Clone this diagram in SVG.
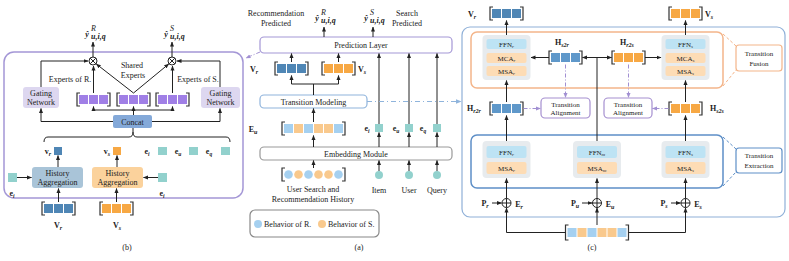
<svg xmlns="http://www.w3.org/2000/svg" width="789" height="261" viewBox="0 0 789 261">
<defs>
<style>
.t{font-family:"Liberation Serif",serif;font-size:8px;fill:#222;text-anchor:middle}
.st{text-anchor:start}
.s{font-size:7px}
.m{font-weight:bold}
.i{font-style:italic}
.ln{stroke:#222;stroke-width:1;fill:none}
.ar{marker-end:url(#a)}
.br{stroke:#333;stroke-width:1.2;fill:none}
.dp{stroke:#a18fd2;stroke-width:1;fill:none;stroke-dasharray:4,2,1,2;marker-end:url(#ap)}
.dbl{stroke:#8fb4dc;stroke-width:1.2;fill:none;stroke-dasharray:5,3,1,3;marker-end:url(#ab)}
.db{fill:#4f86b5}
.hb{fill:#5f98ca}
.or{fill:#f7a844}
.lb{fill:#a5d0f0}
.lo{fill:#f9c98d}
.pu{fill:#a07fe6}
.tl{fill:#92d1cd}
.blk{fill:#e7ebee}
.ffn{fill:#bde3f4}
.msa{fill:#fddcb5}
</style>
<marker id="a" markerUnits="userSpaceOnUse" markerWidth="5" markerHeight="5" viewBox="0 0 10 10" refX="9" refY="5" orient="auto"><path d="M0,1 L10,5 L0,9 z" fill="#222"/></marker>
<marker id="ap" markerUnits="userSpaceOnUse" markerWidth="5" markerHeight="5" viewBox="0 0 10 10" refX="9" refY="5" orient="auto"><path d="M0,1 L10,5 L0,9 z" fill="#a18fd2"/></marker>
<marker id="ab" markerUnits="userSpaceOnUse" markerWidth="6" markerHeight="6" viewBox="0 0 10 10" refX="9" refY="5" orient="auto"><path d="M0,1 L10,5 L0,9 z" fill="#8fb4dc"/></marker>
</defs>
<rect width="789" height="261" fill="#fff"/>

<!-- ================= Panel (b) ================= -->
<g id="panel-b">
<rect x="4" y="52" width="239" height="146" rx="10" fill="none" stroke="#a497d6" stroke-width="1.5"/>
</g>
<g id="b-yR">
<text class="t m i" x="87" y="37" font-size="10">ŷ</text>
<text class="t i st" x="91" y="31" font-size="6">R</text>
<text class="t m i st" x="91" y="39" font-size="5.5">u,i,q</text>
</g>
<g id="b-yS">
<text class="t m i" x="166" y="37" font-size="10">ŷ</text>
<text class="t i st" x="170" y="31" font-size="6">S</text>
<text class="t m i st" x="170" y="39" font-size="5.5">u,i,q</text>
</g>
<g id="b-otimesR"><circle cx="93" cy="61" r="4" fill="#fff" stroke="#222"/><path class="ln" d="M90.2,58.2L95.8,63.8M95.8,58.2L90.2,63.8"/></g>
<g id="b-otimesS"><circle cx="172" cy="61" r="4" fill="#fff" stroke="#222"/><path class="ln" d="M169.2,58.2L174.8,63.8M174.8,58.2L169.2,63.8"/></g>
<g id="b-gateL"><rect x="23" y="87" width="36" height="21" rx="3" fill="#ddd7f0"/><text class="t" x="41" y="96">Gating</text><text class="t" x="41" y="105">Network</text></g>
<g id="b-gateR"><rect x="201" y="87" width="39" height="21" rx="3" fill="#ddd7f0"/><text class="t" x="220.5" y="96">Gating</text><text class="t" x="220.5" y="105">Network</text></g>
<g id="b-expR">
<path class="br" d="M80,93H77V106H80M107,93H110V106H107"/>
<rect class="pu" x="79" y="95" width="9" height="9"/><rect class="pu" x="89" y="95" width="9" height="9"/><rect class="pu" x="99" y="95" width="9" height="9"/>
<text class="t" x="70" y="82">Experts of R.</text>
</g>
<g id="b-expShared">
<path class="br" d="M120,93H117V106H120M147,93H150V106H147"/>
<rect class="pu" x="119" y="95" width="9" height="9"/><rect class="pu" x="129" y="95" width="9" height="9"/><rect class="pu" x="139" y="95" width="9" height="9"/>
<text class="t" x="132" y="68">Shared</text><text class="t" x="133" y="78">Experts</text>
</g>
<g id="b-expS">
<path class="br" d="M159,93H156V106H159M186,93H189V106H186"/>
<rect class="pu" x="158" y="95" width="9" height="9"/><rect class="pu" x="168" y="95" width="9" height="9"/><rect class="pu" x="178" y="95" width="9" height="9"/>
<text class="t" x="198" y="82">Experts of S.</text>
</g>
<g id="b-concat"><rect x="113" y="115" width="39" height="13" rx="2" fill="#84a9d9"/><text class="t" x="132.5" y="124.5">Concat</text></g>
<g id="b-vr"><text class="t m" x="48" y="154">v<tspan class="i" font-size="6" dy="1.5">r</tspan></text><rect class="db" x="54" y="147" width="8" height="8"/></g>
<g id="b-vs"><text class="t m" x="107" y="154">v<tspan class="i" font-size="6" dy="1.5">s</tspan></text><rect class="or" x="113" y="147" width="8" height="8"/></g>
<g id="b-eitop"><text class="t m" x="147" y="154">e<tspan class="i" font-size="5.5" dy="1.5">i</tspan></text><rect class="tl" x="158" y="147" width="9" height="8"/></g>
<g id="b-eu"><text class="t m" x="178" y="154">e<tspan class="i" font-size="5.5" dy="1.5">u</tspan></text><rect class="tl" x="189" y="147" width="9" height="8"/></g>
<g id="b-eq"><text class="t m" x="209" y="154">e<tspan class="i" font-size="5.5" dy="1.5">q</tspan></text><rect class="tl" x="221" y="147" width="9" height="8"/></g>
<g id="b-haR"><rect x="32" y="167" width="51" height="21" rx="3" fill="#a9c4d8"/><text class="t" x="57.5" y="176">History</text><text class="t" x="57.5" y="185">Aggregation</text></g>
<g id="b-haS"><rect x="92" y="167" width="51" height="21" rx="3" fill="#fbd29c"/><text class="t" x="117.5" y="176">History</text><text class="t" x="117.5" y="185">Aggregation</text></g>
<g id="b-eiL"><rect class="tl" x="8" y="173" width="9" height="9"/><text class="t m" x="12" y="196">e<tspan class="i" font-size="5.5" dy="1.5">i</tspan></text></g>
<g id="b-eiR"><rect class="tl" x="158" y="173" width="9" height="9"/><text class="t m" x="162" y="196">e<tspan class="i" font-size="5.5" dy="1.5">i</tspan></text></g>
<g id="b-Vr">
<path class="br" d="M45,202H42V215H45M72,202H75V215H72"/>
<rect class="db" x="44" y="204" width="9" height="9"/><rect class="db" x="54" y="204" width="9" height="9"/><rect class="db" x="64" y="204" width="9" height="9"/>
<text class="t m" x="58" y="228" font-size="9">V<tspan class="i" font-size="6" dy="1.5">r</tspan></text>
</g>
<g id="b-Vs">
<path class="br" d="M103,202H100V215H103M130,202H133V215H130"/>
<rect class="or" x="102" y="204" width="9" height="9"/><rect class="or" x="112" y="204" width="9" height="9"/><rect class="or" x="122" y="204" width="9" height="9"/>
<text class="t m" x="117" y="228" font-size="9">V<tspan class="i" font-size="6" dy="1.5">s</tspan></text>
</g>
<text class="t" x="127" y="250" font-size="9">(b)</text>

<!-- ================= Panel (a) ================= -->
<g id="a-recpred"><text class="t" x="276" y="16">Recommendation</text><text class="t" x="276" y="26">Predicted</text></g>
<g id="a-yR">
<text class="t m i" x="317" y="21" font-size="10">ŷ</text>
<text class="t i st" x="321" y="15" font-size="6">R</text>
<text class="t m i st" x="321" y="23" font-size="5.5">u,i,q</text>
</g>
<g id="a-yS">
<text class="t m i" x="366" y="21" font-size="10">ŷ</text>
<text class="t i st" x="370" y="15" font-size="6">S</text>
<text class="t m i st" x="370" y="23" font-size="5.5">u,i,q</text>
</g>
<g id="a-searchpred"><text class="t" x="407" y="16">Search</text><text class="t" x="407" y="26">Predicted</text></g>
<g id="a-pred"><rect x="260" y="37" width="192" height="16" rx="4" fill="#fff" stroke="#a497d6" stroke-width="1.2"/><text class="t" x="361" y="48">Prediction Layer</text></g>
<g id="a-Vr">
<text class="t m" x="254" y="72" font-size="9">V<tspan class="i" font-size="6" dy="1.5">r</tspan></text>
<path class="br" d="M278,62H275V75H278M305,62H308V75H305"/>
<rect class="db" x="277" y="64" width="9" height="9"/><rect class="db" x="287" y="64" width="9" height="9"/><rect class="db" x="297" y="64" width="9" height="9"/>
</g>
<g id="a-Vs">
<path class="br" d="M325,62H322V75H325M352,62H355V75H352"/>
<rect class="or" x="324" y="64" width="9" height="9"/><rect class="or" x="334" y="64" width="9" height="9"/><rect class="or" x="344" y="64" width="9" height="9"/>
<text class="t m" x="362" y="72" font-size="9">V<tspan class="i" font-size="6" dy="1.5">s</tspan></text>
</g>
<g id="a-trans"><rect x="260" y="95" width="107" height="13" rx="4" fill="#fff" stroke="#8fb4dc" stroke-width="1.2"/><text class="t" x="313.5" y="104.5">Transition Modeling</text></g>
<g id="a-Eu">
<text class="t m" x="253" y="132" font-size="9">E<tspan class="i" font-size="6" dy="1.5">u</tspan></text>
<path class="br" d="M285,122H282V135H285M342,122H345V135H342"/>
<rect class="lb" x="284" y="124" width="9" height="9"/><rect class="lo" x="294" y="124" width="9" height="9"/><rect class="lb" x="304" y="124" width="9" height="9"/><rect class="lo" x="314" y="124" width="9" height="9"/><rect class="lo" x="324" y="124" width="9" height="9"/><rect class="lb" x="334" y="124" width="9" height="9"/>
</g>
<g id="a-emb"><rect x="260" y="147" width="192" height="13" rx="4" fill="#fff" stroke="#999" stroke-width="1.2"/><text class="t" x="356" y="156.5">Embedding Module</text></g>
<g id="a-hist">
<path class="br" d="M285,168H282V181H285M342,168H345V181H342"/>
<circle class="lb" cx="288.5" cy="174.5" r="4.3"/><circle class="lo" cx="298.5" cy="174.5" r="4.3"/><circle class="lb" cx="308.5" cy="174.5" r="4.3"/><circle class="lo" cx="318.5" cy="174.5" r="4.3"/><circle class="lo" cx="328.5" cy="174.5" r="4.3"/><circle class="lb" cx="338.5" cy="174.5" r="4.3"/>
<text class="t" x="313" y="192">User Search and</text><text class="t" x="313" y="202">Recommendation History</text>
</g>
<g id="a-ei"><text class="t m" x="367" y="131">e<tspan class="i" font-size="5.5" dy="1.5">i</tspan></text><rect class="tl" x="375" y="124" width="8" height="8"/><circle class="tl" cx="379" cy="175" r="4"/><text class="t" x="379" y="193">Item</text></g>
<g id="a-eu"><text class="t m" x="396" y="131">e<tspan class="i" font-size="5.5" dy="1.5">u</tspan></text><rect class="tl" x="405" y="124" width="8" height="8"/><circle class="tl" cx="409" cy="175" r="4"/><text class="t" x="409" y="193">User</text></g>
<g id="a-eq"><text class="t m" x="423" y="131">e<tspan class="i" font-size="5.5" dy="1.5">q</tspan></text><rect class="tl" x="433" y="124" width="8" height="8"/><circle class="tl" cx="437" cy="175" r="4"/><text class="t" x="437" y="193">Query</text></g>
<g id="a-legend">
<rect x="250" y="210" width="129" height="27" rx="5" fill="#fff" stroke="#888" stroke-width="1.2"/>
<circle class="lb" cx="258" cy="224" r="4"/><text class="t st" x="264" y="227">Behavior of R.</text>
<circle class="lo" cx="322" cy="224" r="4"/><text class="t st" x="328" y="227">Behavior of S.</text>
</g>
<text class="t" x="359" y="250" font-size="9">(a)</text>

<!-- ================= Panel (c) ================= -->
<g id="c-outer"><rect x="462" y="27" width="323" height="190" rx="8" fill="none" stroke="#8fb0d8" stroke-width="1.2"/></g>
<g id="c-fusion">
<rect x="471" y="32" width="252" height="56" rx="6" fill="none" stroke="#f4b58a" stroke-width="1.5"/>
<path d="M723,34L736,46M723,86L736,70" stroke="#f4b58a" stroke-dasharray="3,2" fill="none"/>
<rect x="736" y="45" width="46" height="26" rx="3" fill="#fff" stroke="#f4b58a" stroke-width="1.2"/>
<text class="t s" x="759" y="55.5">Transition</text><text class="t s" x="759" y="65.5">Fusion</text>
</g>
<g id="c-extraction">
<rect x="471" y="135" width="252" height="53" rx="6" fill="none" stroke="#5e8fc7" stroke-width="1.5"/>
<path d="M723,137L736,149M723,186L736,172" stroke="#5e8fc7" stroke-dasharray="3,2" fill="none"/>
<rect x="736" y="148" width="46" height="25" rx="3" fill="#fff" stroke="#5e8fc7" stroke-width="1.2"/>
<text class="t s" x="759" y="158">Transition</text><text class="t s" x="759" y="168">Extraction</text>
</g>
<g id="c-fuseR">
<rect class="blk" x="482.5" y="35" width="48" height="45" rx="4"/>
<rect class="ffn" x="486.5" y="39" width="40" height="10" rx="2"/><rect class="msa" x="486.5" y="53" width="40" height="10" rx="2"/><rect class="msa" x="486.5" y="66" width="40" height="10" rx="2"/>
<text class="t s" x="506.5" y="46.5">FFN<tspan font-size="5" dy="1.5" class="i">r</tspan></text>
<text class="t s" x="506.5" y="60.5">MCA<tspan font-size="5" dy="1.5" class="i">r</tspan></text>
<text class="t s" x="506.5" y="73.5">MSA<tspan font-size="5" dy="1.5" class="i">r</tspan></text>
</g>
<g id="c-fuseS">
<rect class="blk" x="661.5" y="35" width="48" height="45" rx="4"/>
<rect class="ffn" x="665.5" y="39" width="40" height="10" rx="2"/><rect class="msa" x="665.5" y="53" width="40" height="10" rx="2"/><rect class="msa" x="665.5" y="66" width="40" height="10" rx="2"/>
<text class="t s" x="685.5" y="46.5">FFN<tspan font-size="5" dy="1.5" class="i">s</tspan></text>
<text class="t s" x="685.5" y="60.5">MCA<tspan font-size="5" dy="1.5" class="i">s</tspan></text>
<text class="t s" x="685.5" y="73.5">MSA<tspan font-size="5" dy="1.5" class="i">s</tspan></text>
</g>
<g id="c-Vr">
<text class="t m" x="472" y="17" font-size="9">V<tspan class="i" font-size="6" dy="1.5">r</tspan></text>
<path class="br" d="M493,7H490V20H493M520,7H523V20H520"/>
<rect class="db" x="492" y="9" width="9" height="9"/><rect class="db" x="502" y="9" width="9" height="9"/><rect class="db" x="512" y="9" width="9" height="9"/>
</g>
<g id="c-Vs">
<path class="br" d="M672,7H669V20H672M699,7H702V20H699"/>
<rect class="or" x="671" y="9" width="9" height="9"/><rect class="or" x="681" y="9" width="9" height="9"/><rect class="or" x="691" y="9" width="9" height="9"/>
<text class="t m" x="709" y="17" font-size="9">V<tspan class="i" font-size="6" dy="1.5">s</tspan></text>
</g>
<g id="c-Hs2r">
<text class="t m" x="562" y="45" font-size="9">H<tspan class="i" font-size="6" dy="1.5">s2r</tspan></text>
<path class="br" d="M552,51H549V64H552M579,51H582V64H579"/>
<rect class="hb" x="551" y="53" width="9" height="9"/><rect class="hb" x="561" y="53" width="9" height="9"/><rect class="hb" x="571" y="53" width="9" height="9"/>
</g>
<g id="c-Hr2s">
<text class="t m" x="627" y="45" font-size="9">H<tspan class="i" font-size="6" dy="1.5">r2s</tspan></text>
<path class="br" d="M615,51H612V64H615M642,51H645V64H642"/>
<rect class="or" x="614" y="53" width="9" height="9"/><rect class="or" x="624" y="53" width="9" height="9"/><rect class="or" x="634" y="53" width="9" height="9"/>
</g>
<g id="c-alignL"><rect x="541" y="98" width="49" height="20" rx="4" fill="#fff" stroke="#a58fd0" stroke-width="1.2"/><text class="t s" x="565.5" y="106.5">Transition</text><text class="t s" x="565.5" y="115">Alignment</text></g>
<g id="c-alignR"><rect x="604" y="98" width="48" height="20" rx="4" fill="#fff" stroke="#a58fd0" stroke-width="1.2"/><text class="t s" x="628" y="106.5">Transition</text><text class="t s" x="628" y="115">Alignment</text></g>
<g id="c-Hr2r">
<text class="t m" x="474" y="111" font-size="9">H<tspan class="i" font-size="6" dy="1.5">r2r</tspan></text>
<path class="br" d="M493,102H490V115H493M520,102H523V115H520"/>
<rect class="hb" x="492" y="104" width="9" height="9"/><rect class="hb" x="502" y="104" width="9" height="9"/><rect class="hb" x="512" y="104" width="9" height="9"/>
</g>
<g id="c-Hs2s">
<path class="br" d="M672,102H669V115H672M699,102H702V115H699"/>
<rect class="or" x="671" y="104" width="9" height="9"/><rect class="or" x="681" y="104" width="9" height="9"/><rect class="or" x="691" y="104" width="9" height="9"/>
<text class="t m" x="717" y="111" font-size="9">H<tspan class="i" font-size="6" dy="1.5">s2s</tspan></text>
</g>
<g id="c-extR">
<rect class="blk" x="482.5" y="141" width="48" height="37" rx="4"/>
<rect class="ffn" x="486.5" y="146" width="40" height="12" rx="2"/><rect class="msa" x="486.5" y="162" width="40" height="12" rx="2"/>
<text class="t s" x="506.5" y="154.5">FFN<tspan font-size="5" dy="1.5" class="i">r</tspan></text>
<text class="t s" x="506.5" y="170.5">MSA<tspan font-size="5" dy="1.5" class="i">r</tspan></text>
</g>
<g id="c-extM">
<rect class="blk" x="573" y="141" width="48" height="37" rx="4"/>
<rect class="ffn" x="577" y="146" width="40" height="12" rx="2"/><rect class="msa" x="577" y="162" width="40" height="12" rx="2"/>
<text class="t s" x="597" y="154.5">FFN<tspan font-size="5" dy="1.5" class="i">m</tspan></text>
<text class="t s" x="597" y="170.5">MSA<tspan font-size="5" dy="1.5" class="i">m</tspan></text>
</g>
<g id="c-extS">
<rect class="blk" x="661.5" y="141" width="48" height="37" rx="4"/>
<rect class="ffn" x="665.5" y="146" width="40" height="12" rx="2"/><rect class="msa" x="665.5" y="162" width="40" height="12" rx="2"/>
<text class="t s" x="685.5" y="154.5">FFN<tspan font-size="5" dy="1.5" class="i">s</tspan></text>
<text class="t s" x="685.5" y="170.5">MSA<tspan font-size="5" dy="1.5" class="i">s</tspan></text>
</g>
<g id="c-addR">
<circle cx="506.5" cy="203" r="4.5" fill="#fff" stroke="#222"/><path class="ln" d="M502,203H511M506.5,198.5V207.5"/>
<text class="t m" x="485" y="206" font-size="9">P<tspan class="i" font-size="6" dy="1.5">r</tspan></text>
<text class="t m" x="519" y="207" font-size="9">E<tspan class="i" font-size="6" dy="1.5">r</tspan></text>
</g>
<g id="c-addM">
<circle cx="597" cy="203" r="4.5" fill="#fff" stroke="#222"/><path class="ln" d="M592.5,203H601.5M597,198.5V207.5"/>
<text class="t m" x="575" y="206" font-size="9">P<tspan class="i" font-size="6" dy="1.5">u</tspan></text>
<text class="t m" x="610" y="207" font-size="9">E<tspan class="i" font-size="6" dy="1.5">u</tspan></text>
</g>
<g id="c-addS">
<circle cx="685.5" cy="203" r="4.5" fill="#fff" stroke="#222"/><path class="ln" d="M681,203H690M685.5,198.5V207.5"/>
<text class="t m" x="664" y="206" font-size="9">P<tspan class="i" font-size="6" dy="1.5">s</tspan></text>
<text class="t m" x="698" y="207" font-size="9">E<tspan class="i" font-size="6" dy="1.5">s</tspan></text>
</g>
<g id="c-input">
<path class="br" d="M568.5,225H565.5V240H568.5M625.5,225H628.5V240H625.5"/>
<rect class="lb" x="567.5" y="228" width="9" height="9"/><rect class="lo" x="577.5" y="228" width="9" height="9"/><rect class="lb" x="587.5" y="228" width="9" height="9"/><rect class="lo" x="597.5" y="228" width="9" height="9"/><rect class="lo" x="607.5" y="228" width="9" height="9"/><rect class="lb" x="617.5" y="228" width="9" height="9"/>
</g>
<text class="t" x="592" y="250" font-size="9">(c)</text>

<!-- ================= Connectors ================= -->
<g id="connectors">
<path class="ln ar" d="M93,57V42"/>
<path class="ln ar" d="M172,57V42"/>
<path class="ln ar" d="M41,87V61H88"/>
<path class="ln ar" d="M220,87V61H177"/>
<path class="ln ar" d="M93.5,93V66"/>
<path class="ln ar" d="M133.5,93L96.3,64"/>
<path class="ln ar" d="M133.5,93L168.7,64"/>
<path class="ln ar" d="M172.5,93V66"/>
<path class="ln" d="M93.5,110H172.5"/>
<path class="ln ar" d="M93.5,110V106.5"/>
<path class="ln ar" d="M172.5,110V106.5"/>
<path class="ln ar" d="M133.5,115V106.5"/>
<path class="ln ar" d="M113,121.5H41V108.5"/>
<path class="ln ar" d="M152,121.5H220V108.5"/>
<path class="ln" d="M44,142Q44,137 48,137H129Q133,137 133,132V128M133,132Q133,137 137,137H226Q230,137 230,142"/>
<path class="ln ar" d="M58,167V155.5"/>
<path class="ln ar" d="M117,167V155.5"/>
<path class="ln ar" d="M17,177.5H31.5"/>
<path class="ln ar" d="M158,177.5H143.5"/>
<path class="ln ar" d="M58.5,202V188.5"/>
<path class="ln ar" d="M116.5,202V188.5"/>
<path class="dp" d="M260,52L246,58"/>
<path class="ln ar" d="M324,37V27"/>
<path class="ln ar" d="M373,37V27"/>
<path class="ln ar" d="M291.5,62V53.5"/>
<path class="ln ar" d="M338.5,62V53.5"/>
<path class="ln" d="M313.5,95V84M291.5,84H338.5"/>
<path class="ln ar" d="M291.5,84V75.5"/>
<path class="ln ar" d="M338.5,84V75.5"/>
<path class="ln ar" d="M313.5,122V108.5"/>
<path class="ln ar" d="M313.5,147V135.5"/>
<path class="ln ar" d="M313.5,168V160.5"/>
<path class="ln ar" d="M379,124V53.5"/>
<path class="ln ar" d="M409,124V53.5"/>
<path class="ln ar" d="M437,124V53.5"/>
<path class="ln ar" d="M379,147V132.5"/>
<path class="ln ar" d="M409,147V132.5"/>
<path class="ln ar" d="M437,147V132.5"/>
<path class="ln ar" d="M379,171V160.5"/>
<path class="ln ar" d="M409,171V160.5"/>
<path class="ln ar" d="M437,171V160.5"/>
<path class="dbl" d="M367,101.5H461"/>
<path class="ln ar" d="M506.5,35V20.5"/>
<path class="ln ar" d="M685.5,35V20.5"/>
<path class="ln ar" d="M549,57.5H531"/>
<path class="ln ar" d="M645,57.5H661"/>
<path class="ln" d="M597,141V57.5"/>
<path class="ln ar" d="M597,57.5H582.5"/>
<path class="ln ar" d="M597,57.5H611.5"/>
<path class="dp" d="M565.5,64.5V97.5"/>
<path class="dp" d="M628.5,64.5V97.5"/>
<path class="dp" d="M523.5,108.5H540.5"/>
<path class="dp" d="M668.5,108.5H652.5"/>
<path class="ln ar" d="M506.5,102V80.5"/>
<path class="ln ar" d="M685.5,102V80.5"/>
<path class="ln ar" d="M506.5,141V115.5"/>
<path class="ln ar" d="M685.5,141V115.5"/>
<path class="ln ar" d="M506.5,198.5V178.5"/>
<path class="ln ar" d="M597,198.5V178.5"/>
<path class="ln ar" d="M685.5,198.5V178.5"/>
<path class="ln ar" d="M492,203H501.5"/>
<path class="ln ar" d="M582,203H592"/>
<path class="ln ar" d="M671,203H680.5"/>
<path class="ln ar" d="M565.5,232.5H506.5V208"/>
<path class="ln ar" d="M597,225V208"/>
<path class="ln ar" d="M628.5,232.5H685.5V208"/>
</g>
</svg>
